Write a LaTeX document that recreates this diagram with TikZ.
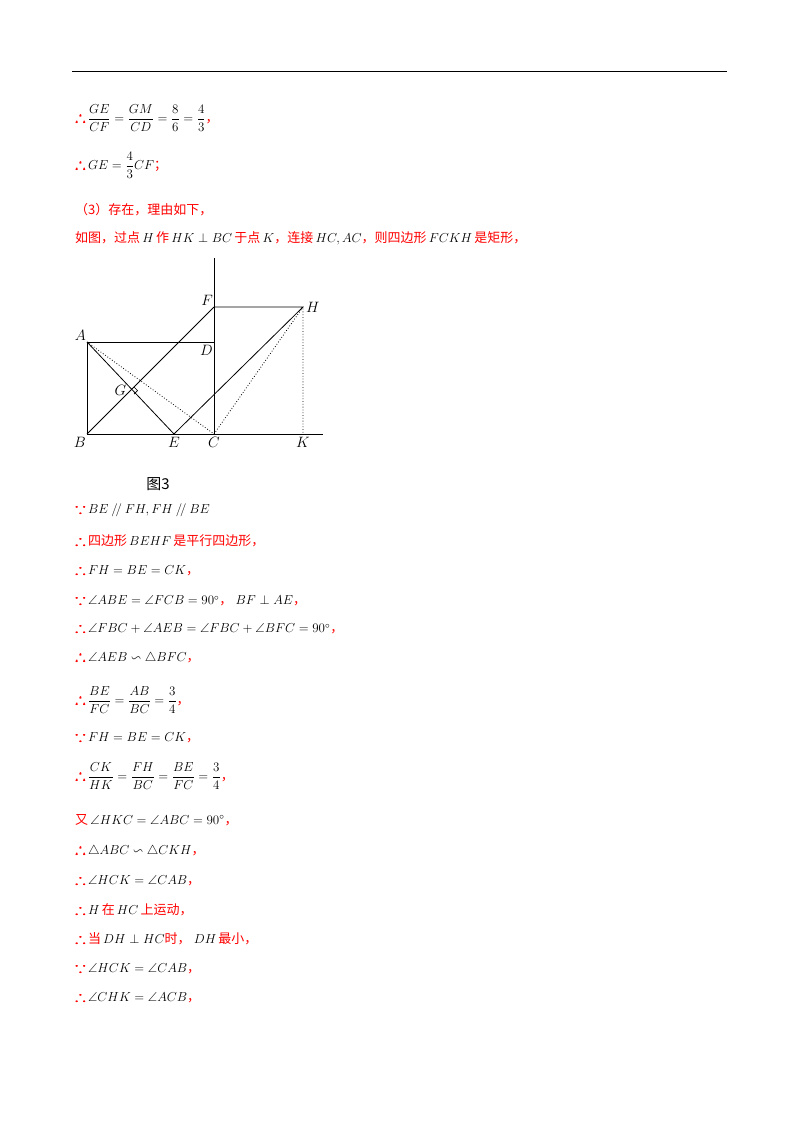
\RequirePackage{fix-cm}
\documentclass[tikz,border=0pt]{standalone}
\usepackage{amsmath,amssymb,bm}
\usepackage{fontspec}
\setmainfont{Liberation Serif}
\newfontfamily\cjk{Noto Sans CJK SC}
\usetikzlibrary{calc}
\begin{document}
\begin{tikzpicture}[x=1pt,y=-1pt,
  ln/.style={anchor=west,inner sep=0pt,font=\fontsize{13}{15}\selectfont},
  lbl/.style={font=\fontsize{15}{17}\selectfont,inner sep=1pt},
  seg/.style={line width=0.8pt},
  dot/.style={line width=0.8pt,dotted}]
\useasboundingbox (0,0) rectangle (800,1132);
\draw[line width=1pt] (72,72) -- (727,72);
\newcommand{\tf}{{\color{red}\fontsize{15}{15}\selectfont$\bm{\therefore}$}\,}
\newcommand{\bc}{{\color{red}\fontsize{15}{15}\selectfont$\bm{\because}$}\,}
\newcommand{\rc}[1]{\textcolor{red}{\cjk #1}}
\node[ln] (l1) at (75,118) {\tf$\dfrac{GE}{CF}=\dfrac{GM}{CD}=\dfrac{8}{6}=\dfrac{4}{3}$\rc{，}};
\node[ln] (l2) at (75,165) {\tf$GE=\dfrac{4}{3}CF$\rc{；}};
\node[ln] (l3) at (75,210) {\rc{（3）存在，理由如下，}};
\node[ln] (l4) at (75,238) {\rc{如图，过点}\,$H$\,\rc{作}\,$HK\perp BC$\,\rc{于点}\,$K$\rc{，连接}\,$HC,AC$\rc{，则四边形}\,$FCKH$\,\rc{是矩形，}};
% figure
\coordinate (B) at (87,434); \coordinate (C) at (214,434);
\coordinate (A) at (87,342); \coordinate (D) at (214,342);
\coordinate (F) at (214,307); \coordinate (H) at (303,307);
\coordinate (K) at (303,434); \coordinate (E) at (174,434);
\coordinate (Ctop) at (214,258); \coordinate (Rend) at (323,434);
\coordinate (G) at (130.5,390.5);
\draw[seg] (A) -- (B) -- (Rend);
\draw[seg] (A) -- (D);
\draw[seg] (C) -- (Ctop);
\draw[seg] (F) -- (H) -- (E) -- (A);
\draw[seg] (B) -- (F);
\draw[dot] (A) -- (C) -- (H) -- (K);
\draw[line width=0.6pt] ($(G)!5pt!(E)$) -- ++(5*0.7071,-5*0.7071) -- ($(G)!5pt!(F)$);
\node[lbl,anchor=south east] at (A) {$A$};
\node[lbl,anchor=north east] at ([yshift=-2]B) {$B$};
\node[lbl,anchor=north] at ([yshift=-2]E) {$E$};
\node[lbl,anchor=north] at ([yshift=-2]C) {$C$};
\node[lbl,anchor=north] at ([yshift=-2]K) {$K$};
\node[lbl,anchor=south east] at (F) {$F$};
\node[lbl,anchor=west] at ([xshift=2]H) {$H$};
\node[lbl,anchor=north east] at ([yshift=-2]D) {$D$};
\node[lbl,anchor=east] at ([xshift=-3]G) {$G$};
\node[font=\fontsize{15}{17}\selectfont] (cap) at (158,484) {\cjk 图3};
\node[ln] at (75,510) {\bc$BE\mathbin{/\!/}FH,FH\mathbin{/\!/}BE$};
\node[ln] at (75,541) {\tf\rc{四边形}\,$BEHF$\,\rc{是平行四边形，}};
\node[ln] at (75,570) {\tf$FH=BE=CK$\rc{，}};
\node[ln] at (75,600) {\bc$\angle ABE=\angle FCB=90^\circ$\rc{，}\ $BF\perp AE$\rc{，}};
\node[ln] at (75,628) {\tf$\angle FBC+\angle AEB=\angle FBC+\angle BFC=90^\circ$\rc{，}};
\node[ln] at (75,657) {\tf$\angle AEB\backsim\triangle BFC$\rc{，}};
\node[ln] at (75,700) {\tf$\dfrac{BE}{FC}=\dfrac{AB}{BC}=\dfrac{3}{4}$\rc{，}};
\node[ln] at (75,737) {\bc$FH=BE=CK$\rc{，}};
\node[ln] at (75,776) {\tf$\dfrac{CK}{HK}=\dfrac{FH}{BC}=\dfrac{BE}{FC}=\dfrac{3}{4}$\rc{，}};
\node[ln] at (75,820) {\rc{又}\,$\angle HKC=\angle ABC=90^\circ$\rc{，}};
\node[ln] at (75,850) {\tf$\triangle ABC\backsim\triangle CKH$\rc{，}};
\node[ln] at (75,880) {\tf$\angle HCK=\angle CAB$\rc{，}};
\node[ln] at (75,910) {\tf$H$\,\rc{在}\,$HC$\,\rc{上运动，}};
\node[ln] at (75,939) {\tf\rc{当}\,$DH\perp HC$\rc{时，}\ $DH$\,\rc{最小，}};
\node[ln] at (75,968) {\bc$\angle HCK=\angle CAB$\rc{，}};
\node[ln] at (75,997) {\tf$\angle CHK=\angle ACB$\rc{，}};
\end{tikzpicture}
\end{document}
